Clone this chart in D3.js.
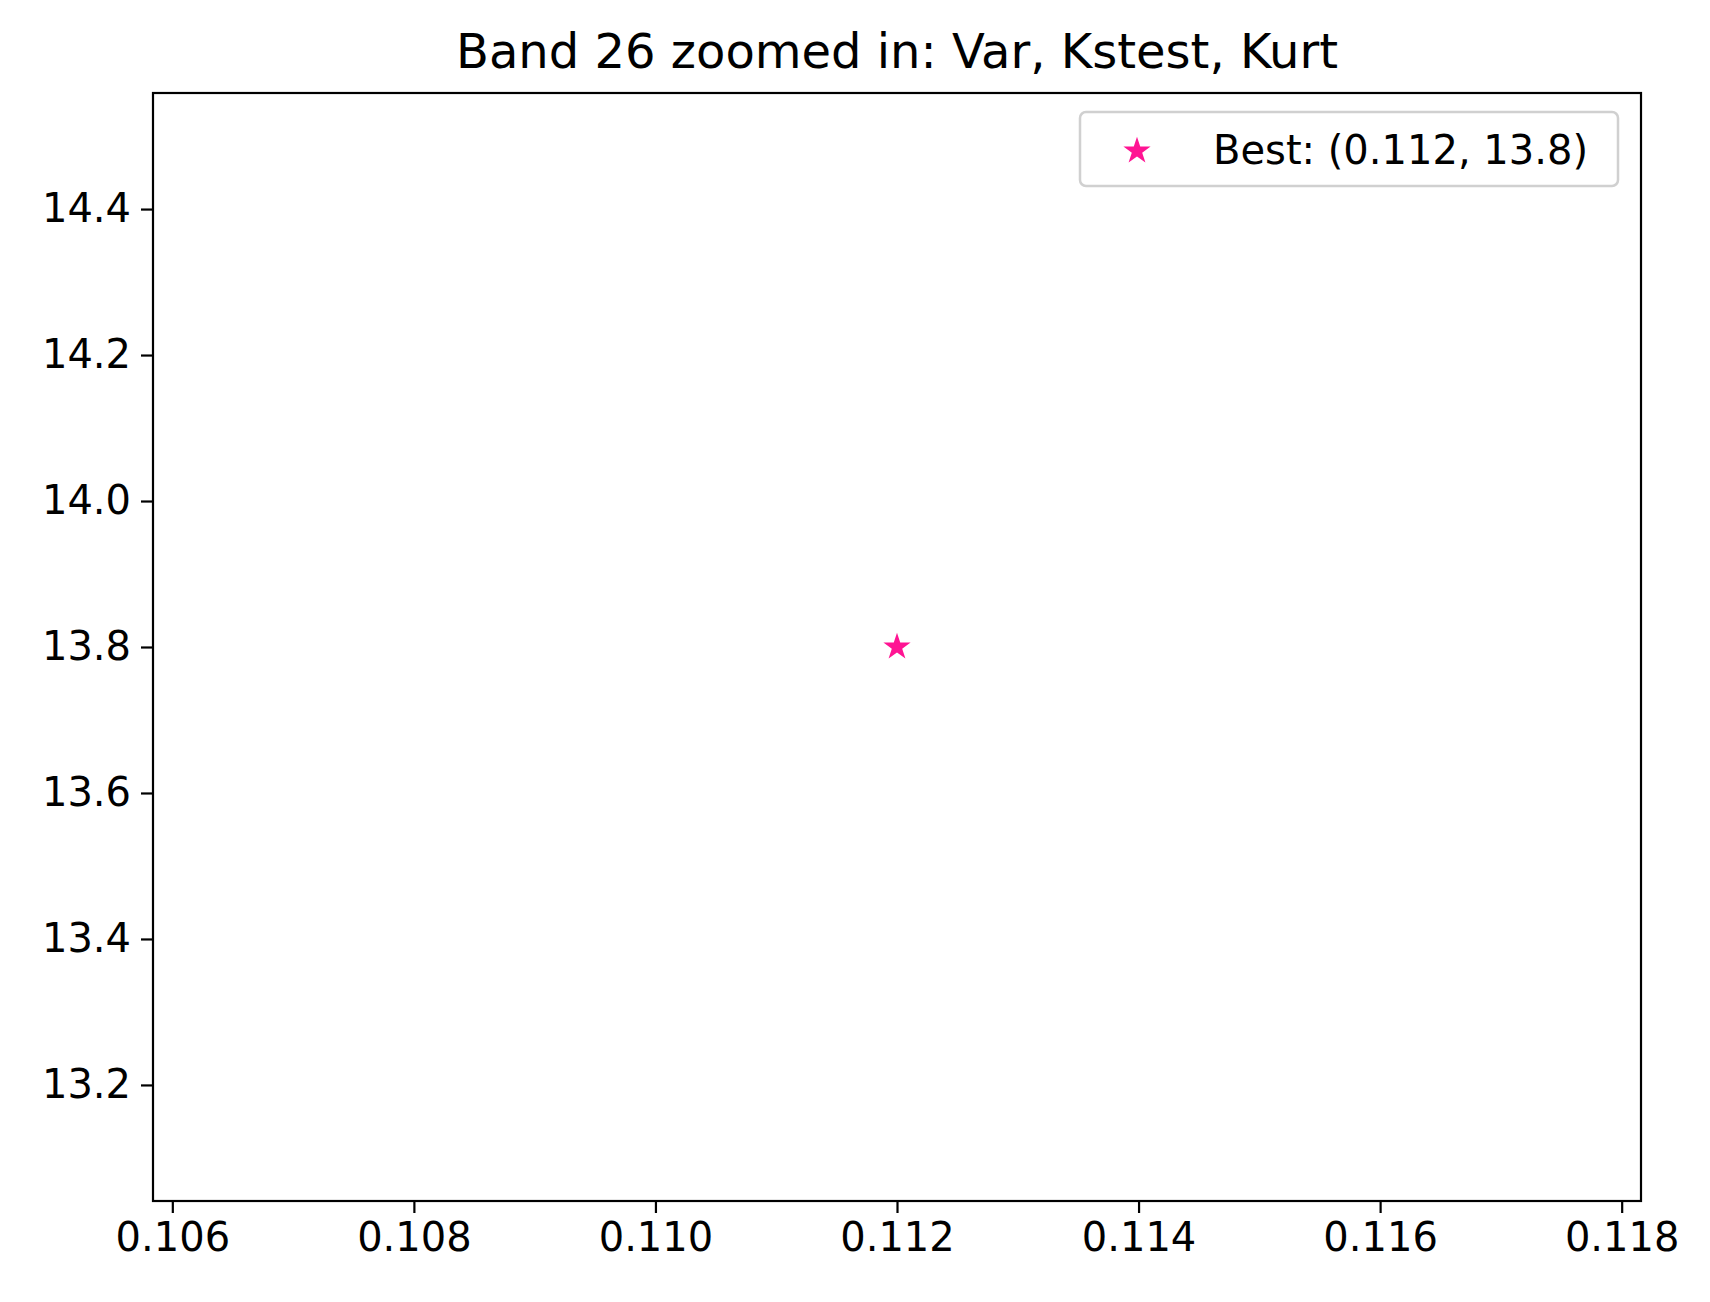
<!DOCTYPE html>
<html><head><meta charset="utf-8">
<script src="https://cdn.jsdelivr.net/npm/d3@7"></script>
<style>body{margin:0;background:#fff}text{font-family:"DejaVu Sans",sans-serif}</style>
</head><body><svg id="c" width="1710" height="1302"></svg>
<script>
const title = "Band 26 zoomed in: Var, Kstest, Kurt";
const xValues = [0.112];
const yValues = [13.8];
const legendLabels = ["Best: (0.112, 13.8)"];
const xTicks = [0.106,0.108,0.110,0.112,0.114,0.116,0.118];
const yTicks = [13.2,13.4,13.6,13.8,14.0,14.2,14.4];
const xDomain = [0.10584, 0.11816];
const yDomain = [13.041, 14.559];

const svg = d3.select("#c");
const L=153,R=1641,T=93,B=1201;
const x = d3.scaleLinear().domain(xDomain).range([L,R]);
const y = d3.scaleLinear().domain(yDomain).range([B,T]);
svg.append("rect").attr("width",1710).attr("height",1302).attr("fill","#fff");
const xa = svg.append("g").attr("transform",`translate(0,${B})`)
  .call(d3.axisBottom(x).tickValues(xTicks).tickFormat(d3.format(".3f")).tickSize(12).tickPadding(10));
const ya = svg.append("g").attr("transform",`translate(${L},0)`)
  .call(d3.axisLeft(y).tickValues(yTicks).tickFormat(d3.format(".1f")).tickSize(12).tickPadding(10));
[xa,ya].forEach(a=>{a.select(".domain").remove();a.selectAll("line").attr("stroke","#000").attr("stroke-width",2.2);a.selectAll("text").attr("font-size",40).attr("fill","#000");});
svg.append("rect").attr("x",L).attr("y",T).attr("width",R-L).attr("height",B-T).attr("fill","none").attr("stroke","#000").attr("stroke-width",2.2);
svg.append("text").attr("x",(L+R)/2).attr("y",68).attr("text-anchor","middle").attr("font-size",48).text(title);
const star = d3.symbol().type(d3.symbolStar).size(230);
svg.selectAll(".pt").data(xValues).join("path").attr("d",star)
  .attr("transform",(d,i)=>`translate(${x(d)},${y(yValues[i])})`).attr("fill","#ff1493");
// legend
const lg = svg.append("g");
lg.append("rect").attr("x",1080).attr("y",112).attr("width",538).attr("height",74).attr("rx",6)
  .attr("fill","#fff").attr("stroke","#d0d0d0").attr("stroke-width",2.5);
lg.append("path").attr("d",star).attr("transform","translate(1137,151)").attr("fill","#ff1493");
lg.append("text").attr("x",1213).attr("y",164).attr("font-size",40).text(legendLabels[0]);
</script></body></html>
